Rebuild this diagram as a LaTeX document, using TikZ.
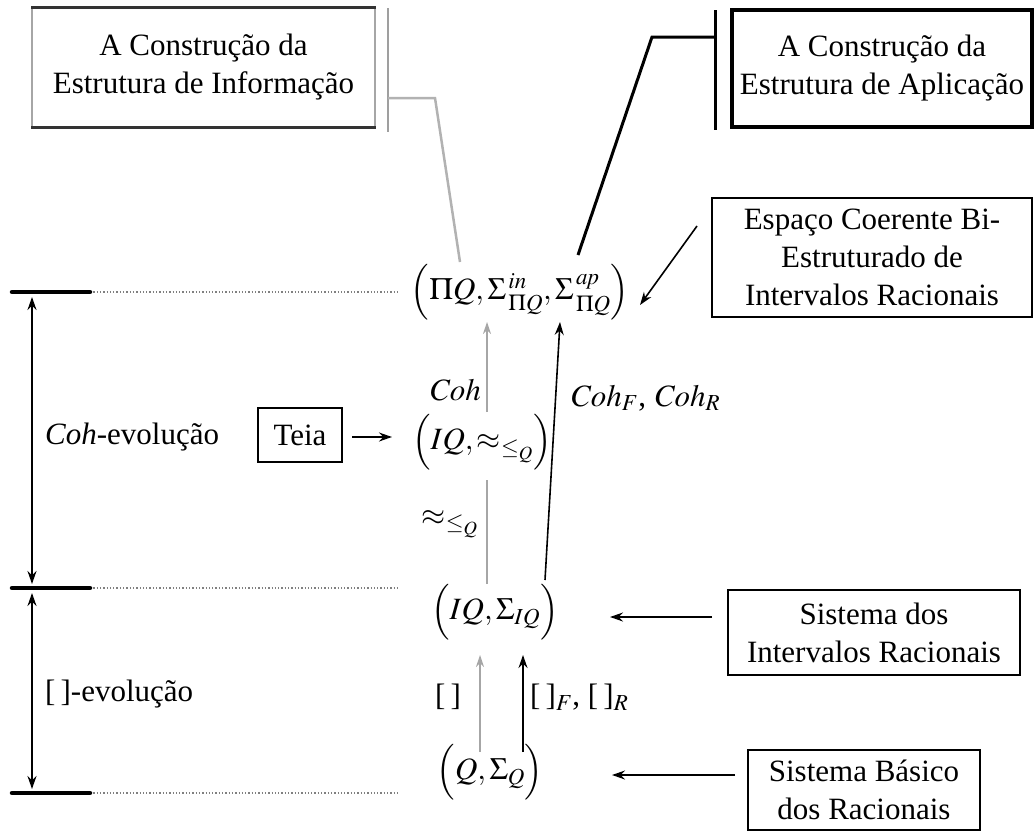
\documentclass[tikz,border=0pt]{standalone}
\usepackage{mathptmx}
\usepackage{fontspec}
\setmainfont{Liberation Serif}
\usetikzlibrary{arrows.meta}
\begin{document}
\begin{tikzpicture}[x=1pt,y=-1pt,
  txt/.style={font=\fontsize{31}{38}\selectfont, inner sep=0pt, align=center, text=black},
  box/.style={txt, draw, line width=1.5pt},
  arr/.style={-{Stealth[length=13pt,width=9pt]}, line width=1.6pt},
  garr/.style={-{Stealth[length=12pt,width=8pt]}, draw=gray!70, line width=1.2pt},
  dbl/.style={{Stealth[length=13pt,width=9pt]}-{Stealth[length=13pt,width=9pt]}, line width=2pt},
  dots/.style={gray, dotted, line width=1.3pt},
  bar/.style={line width=4.5pt, line cap=round},
  ]
\useasboundingbox (0,0) rectangle (1035,835);

% boxes
\node[box, draw=gray!70, line width=1.5pt, minimum width=343pt, minimum height=119pt] (info) at (203.5,67.5) {A Construção da\\Estrutura de Informação};
\draw[gray!40!black, line width=3pt] (info.north west) -- (info.north east);
\draw[gray!40!black, line width=3pt] (info.south west) -- (info.south east);
\node[box, line width=3.2pt, minimum width=300pt, minimum height=117pt] (app) at (882,68.5) {A Construção da\\Estrutura de Aplicação};
\node[box, minimum width=320pt, minimum height=119pt] (esp) at (872,257.5) {Espaço Coerente Bi-\\Estruturado de\\Intervalos Racionais};
\node[box, minimum width=292pt, minimum height=85pt] (sid) at (874,632.5) {Sistema dos\\Intervalos Racionais};
\node[box, minimum width=232pt, minimum height=80pt] (sib) at (864,790) {Sistema Básico\\dos Racionais};
\node[box, minimum width=84pt, minimum height=54pt] (teia) at (300,435) {Teia};

% math nodes
\node[txt] (piq) at (520,292) {$\Bigl(\Pi Q,\Sigma^{\,\mathit{in}}_{\,\mathstrut\Pi Q},\Sigma^{\,\mathit{ap}}_{\,\mathstrut\Pi Q}\Bigr)$};
\node[txt] (iqa) at (482,442) {$\Bigl(IQ,\approx_{\leq_{Q}}\Bigr)$};
\node[txt] (iqs) at (495,612) {$\Bigl(IQ,\Sigma_{IQ}\Bigr)$};
\node[txt] (qs) at (490,772) {$\Bigl(Q,\Sigma_{Q}\Bigr)$};

% labels
\node[txt, anchor=west] (cohev) at (45,437) {\textit{Coh}-evolução};
\node[txt, anchor=west] (brev) at (45,694) {[\,]-evolução};
\node[txt] (coh) at (455,390) {$\mathit{Coh}$};
\node[txt, anchor=west] (cohfr) at (570,398) {$\mathit{Coh}_F$, $\mathit{Coh}_R$};
\node[txt] (apx) at (450,524) {$\approx_{\leq_{Q}}$};
\node[txt] (br) at (448,697) {[\,]};
\node[txt, anchor=west] (brfr) at (530,697) {[\,]$_F$, [\,]$_R$};

% callout bars and connectors
\coordinate (ib1) at (388,8);  \coordinate (ib2) at (388,132);
\coordinate (ic1) at (388,98); \coordinate (ic2) at (435,98); \coordinate (ic3) at (460,262);
\draw[gray!75, line width=1.5pt] (ib1) -- (ib2);
\draw[gray!60, line width=2.5pt] (ic1) -- (ic2) -- (ic3);
\coordinate (ab1) at (715,10);  \coordinate (ab2) at (715,130);
\coordinate (ac1) at (715,37); \coordinate (ac2) at (652,37); \coordinate (ac3) at (578,255);
\draw[line width=3pt] (ab1) -- (ab2);
\draw[line width=3pt] (ac1) -- (ac2) -- (ac3);

% level markers
\foreach \y/\n in {292/a,588/b,793/c}{
  \coordinate (l\n0) at (12,\y); \coordinate (l\n1) at (90,\y); \coordinate (l\n2) at (400,\y);
  \draw[dots] (l\n1) -- (l\n2);
  \draw[bar] (l\n0) -- (l\n1);
}
\coordinate (d1) at (32,297); \coordinate (d2) at (32,584);
\coordinate (d3) at (32,593); \coordinate (d4) at (32,789);
\draw[dbl] (d1) -- (d2);
\draw[dbl] (d3) -- (d4);

% vertical arrows
\coordinate (g0) at (487,584); \coordinate (g1) at (487,480);
\coordinate (g2) at (487,412); \coordinate (g3) at (487,322);
\draw[gray!70, line width=1.2pt] (g0) -- (g1);
\draw[garr] (g2) -- (g3);
\coordinate (k0) at (545,580); \coordinate (k1) at (560,322);
\draw[arr] (k0) -- (k1);
\coordinate (b0) at (480,752); \coordinate (b1) at (480,655);
\coordinate (b2) at (523,752); \coordinate (b3) at (523,655);
\draw[garr] (b0) -- (b1);
\draw[arr] (b2) -- (b3);

% side arrows
\coordinate (e0) at (697,226); \coordinate (e1) at (640,305);
\draw[arr] (e0) -- (e1);
\coordinate (s0) at (712,617); \coordinate (s1) at (610,617);
\draw[arr] (s0) -- (s1);
\coordinate (t0) at (735,775); \coordinate (t1) at (612,775);
\draw[arr] (t0) -- (t1);
\coordinate (w0) at (352,437); \coordinate (w1) at (392,437);
\draw[arr] (w0) -- (w1);
\end{tikzpicture}
\end{document}
